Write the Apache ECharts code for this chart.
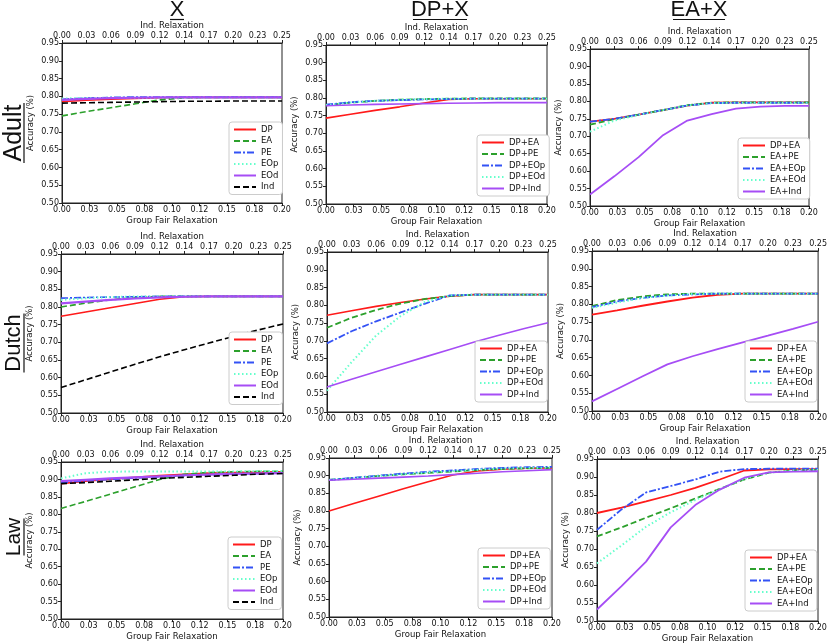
<!DOCTYPE html>
<html>
<head>
<meta charset="utf-8">
<script src="https://cdn.jsdelivr.net/npm/echarts@6/dist/echarts.min.js"></script>
<style>
html,body{margin:0;padding:0;background:#fff;}
#main{width:830px;height:644px;}
</style>
</head>
<body>
<div id="main"></div>
<script>
// bottom axis: group fair relaxation, 10 runs
var groupRelax = [0, 0.0222, 0.0444, 0.0667, 0.0889, 0.1111, 0.1333, 0.1556, 0.1778, 0.2];
var groupTicks = ['0.00','0.03','0.05','0.08','0.10','0.12','0.15','0.18','0.20'];
var indTicks = ['0.00','0.03','0.06','0.09','0.12','0.14','0.17','0.20','0.23','0.25'];
var colTitles = ['X', 'DP+X', 'EA+X'];
var rowTitles = ['Adult', 'Dutch', 'Law'];

var namesX = ['DP','EA','PE','EOp','EOd','Ind'];
var namesDP = ['DP+EA','DP+PE','DP+EOp','DP+EOd','DP+Ind'];
var namesEA = ['DP+EA','EA+PE','EA+EOp','EA+EOd','EA+Ind'];

// Adult
var adult_X = [
	[0.785, 0.789, 0.792, 0.794, 0.796, 0.797, 0.797, 0.797, 0.797, 0.797],
	[0.745, 0.757, 0.768, 0.779, 0.790, 0.796, 0.797, 0.797, 0.797, 0.797],
	[0.792, 0.795, 0.797, 0.798, 0.798, 0.798, 0.798, 0.798, 0.798, 0.798],
	[0.794, 0.795, 0.796, 0.796, 0.796, 0.796, 0.796, 0.796, 0.796, 0.796],
	[0.790, 0.793, 0.795, 0.796, 0.797, 0.797, 0.797, 0.797, 0.797, 0.797],
	[0.781, 0.782, 0.783, 0.784, 0.785, 0.786, 0.786, 0.787, 0.787, 0.787]
];
var adult_DP = [
	[0.743, 0.754, 0.765, 0.775, 0.786, 0.796, 0.798, 0.798, 0.798, 0.798],
	[0.779, 0.787, 0.792, 0.795, 0.797, 0.798, 0.799, 0.799, 0.799, 0.799],
	[0.781, 0.788, 0.792, 0.794, 0.796, 0.797, 0.798, 0.798, 0.798, 0.798],
	[0.780, 0.787, 0.792, 0.795, 0.797, 0.798, 0.798, 0.798, 0.798, 0.798],
	[0.778, 0.780, 0.782, 0.783, 0.784, 0.785, 0.786, 0.787, 0.787, 0.787]
];
var adult_EA = [
	[0.742, 0.750, 0.762, 0.775, 0.788, 0.796, 0.797, 0.797, 0.797, 0.797],
	[0.733, 0.749, 0.762, 0.775, 0.789, 0.796, 0.797, 0.797, 0.797, 0.797],
	[0.742, 0.750, 0.762, 0.775, 0.788, 0.795, 0.796, 0.796, 0.796, 0.796],
	[0.713, 0.745, 0.761, 0.775, 0.788, 0.795, 0.796, 0.796, 0.796, 0.796],
	[0.533, 0.585, 0.640, 0.703, 0.745, 0.763, 0.779, 0.785, 0.787, 0.787]
];
// Dutch
var dutch_X = [
	[0.774, 0.786, 0.798, 0.810, 0.822, 0.829, 0.830, 0.830, 0.830, 0.830],
	[0.800, 0.811, 0.820, 0.827, 0.830, 0.830, 0.830, 0.830, 0.830, 0.830],
	[0.825, 0.827, 0.828, 0.829, 0.830, 0.830, 0.830, 0.830, 0.830, 0.830],
	[0.820, 0.825, 0.828, 0.830, 0.830, 0.830, 0.830, 0.830, 0.830, 0.830],
	[0.810, 0.815, 0.820, 0.824, 0.827, 0.829, 0.830, 0.830, 0.830, 0.830],
	[0.572, 0.594, 0.616, 0.638, 0.659, 0.679, 0.698, 0.717, 0.735, 0.752]
];
var dutch_DP = [
	[0.772, 0.785, 0.797, 0.808, 0.818, 0.826, 0.830, 0.830, 0.830, 0.830],
	[0.737, 0.765, 0.787, 0.805, 0.818, 0.826, 0.830, 0.830, 0.830, 0.830],
	[0.693, 0.727, 0.755, 0.780, 0.805, 0.828, 0.830, 0.830, 0.830, 0.830],
	[0.560, 0.640, 0.715, 0.770, 0.810, 0.828, 0.830, 0.830, 0.830, 0.830],
	[0.570, 0.592, 0.613, 0.634, 0.655, 0.676, 0.697, 0.716, 0.734, 0.751]
];
var dutch_EA = [
	[0.771, 0.783, 0.796, 0.808, 0.819, 0.827, 0.830, 0.830, 0.830, 0.830],
	[0.795, 0.812, 0.822, 0.828, 0.830, 0.830, 0.830, 0.830, 0.830, 0.830],
	[0.792, 0.808, 0.818, 0.825, 0.828, 0.830, 0.830, 0.830, 0.830, 0.830],
	[0.790, 0.805, 0.818, 0.825, 0.829, 0.830, 0.830, 0.830, 0.830, 0.830],
	[0.527, 0.562, 0.597, 0.631, 0.654, 0.674, 0.693, 0.712, 0.731, 0.751]
];
// Law
var law_X = [
	[0.888, 0.895, 0.901, 0.906, 0.911, 0.915, 0.918, 0.920, 0.921, 0.922],
	[0.817, 0.837, 0.858, 0.879, 0.900, 0.915, 0.920, 0.922, 0.923, 0.923],
	[0.891, 0.896, 0.900, 0.904, 0.908, 0.911, 0.914, 0.916, 0.917, 0.918],
	[0.903, 0.918, 0.922, 0.923, 0.923, 0.923, 0.923, 0.923, 0.924, 0.924],
	[0.895, 0.899, 0.903, 0.906, 0.909, 0.912, 0.914, 0.916, 0.917, 0.918],
	[0.888, 0.891, 0.895, 0.899, 0.903, 0.906, 0.909, 0.912, 0.915, 0.917]
];
var law_DP = [
	[0.800, 0.821, 0.842, 0.863, 0.883, 0.902, 0.913, 0.918, 0.921, 0.922],
	[0.888, 0.893, 0.899, 0.904, 0.908, 0.912, 0.916, 0.919, 0.921, 0.922],
	[0.888, 0.894, 0.900, 0.906, 0.911, 0.915, 0.919, 0.922, 0.924, 0.925],
	[0.888, 0.893, 0.899, 0.904, 0.909, 0.913, 0.917, 0.920, 0.922, 0.923],
	[0.887, 0.890, 0.893, 0.896, 0.899, 0.903, 0.907, 0.911, 0.914, 0.917]
];
var law_EA = [
	[0.800, 0.815, 0.832, 0.850, 0.870, 0.893, 0.918, 0.921, 0.922, 0.922],
	[0.735, 0.760, 0.787, 0.813, 0.840, 0.867, 0.893, 0.912, 0.918, 0.920],
	[0.753, 0.810, 0.857, 0.875, 0.893, 0.915, 0.922, 0.923, 0.923, 0.923],
	[0.660, 0.710, 0.762, 0.802, 0.836, 0.866, 0.895, 0.912, 0.918, 0.920],
	[0.532, 0.597, 0.665, 0.760, 0.822, 0.865, 0.898, 0.913, 0.915, 0.916]
];

var RED = '#ff1a1a', GREEN = '#2ca02c', BLUE = '#3352f5', AQUA = '#66ffcc', PURPLE = '#a64df5';
var DASH = [6, 3], DASHDOT = [7, 2, 2, 2], DOT = [1.5, 2.5];
var styleX = [
	{color: RED, type: 'solid', width: 1.6},
	{color: GREEN, type: DASH, width: 1.6},
	{color: BLUE, type: DASHDOT, width: 1.6},
	{color: AQUA, type: DOT, width: 2},
	{color: PURPLE, type: 'solid', width: 2.2},
	{color: '#000', type: DASH, width: 1.6}
];
var styleDP = [
	{color: RED, type: 'solid', width: 1.6},
	{color: GREEN, type: DASH, width: 1.8},
	{color: BLUE, type: DASHDOT, width: 1.8},
	{color: AQUA, type: DOT, width: 2},
	{color: PURPLE, type: 'solid', width: 1.6}
];
var styleEA = [
	{color: RED, type: 'solid', width: 1.8},
	{color: GREEN, type: DASH, width: 1.8},
	{color: BLUE, type: DASHDOT, width: 1.8},
	{color: AQUA, type: DOT, width: 2},
	{color: PURPLE, type: 'solid', width: 1.8}
];

// plot boxes [left, top, width, height], row by row
var boxes = [
	[62, 43, 220, 160], [326, 45, 221, 159], [590, 49, 219, 157],
	[61, 254, 222, 159], [327, 252, 221, 160], [592, 251, 227, 160],
	[61, 462, 222, 157], [329, 458, 223, 159], [597, 459, 221, 162]
];
// legend top-left corners
var legendPos = [
	[229, 122], [477, 135], [738, 138],
	[229, 332], [475, 341], [745, 341],
	[228, 537], [478, 548], [745, 550]
];

var panels = [
	[adult_X, namesX, styleX], [adult_DP, namesDP, styleDP], [adult_EA, namesEA, styleEA],
	[dutch_X, namesX, styleX], [dutch_DP, namesDP, styleDP], [dutch_EA, namesEA, styleEA],
	[law_X, namesX, styleX], [law_DP, namesDP, styleDP], [law_EA, namesEA, styleEA]
];

var FONT = 'DejaVu Sans';
var lbl = {fontSize: 8, color: '#111', fontFamily: FONT};
var nm = {fontSize: 8.5, color: '#111', fontFamily: FONT};
var axLine = {show: true, lineStyle: {color: '#222', width: 1}};
var axTick = {show: true, length: 3, inside: false, lineStyle: {color: '#222'}};

var grid = [], xAxis = [], yAxis = [], series = [], legend = [];
for (var p = 0; p < 9; p++) {
	var b = boxes[p];
	grid.push({left: b[0], top: b[1], width: b[2], height: b[3], show: true,
		borderColor: '#222', borderWidth: 1, backgroundColor: '#fff'});
	xAxis.push({
		type: 'value', gridIndex: p, position: 'bottom', min: 0, max: 0.2, interval: 0.025,
		name: 'Group Fair Relaxation', nameLocation: 'middle', nameGap: 13, nameTextStyle: nm,
		axisLine: axLine, axisTick: axTick, splitLine: {show: false},
		axisLabel: Object.assign({margin: 3, showMaxLabel: true, formatter: function (v) {
			return groupTicks[Math.round(v / 0.025)];
		}}, lbl)
	});
	xAxis.push({
		type: 'value', gridIndex: p, position: 'top', min: 0, max: 9, interval: 1,
		name: 'Ind. Relaxation', nameLocation: 'middle', nameGap: 13, nameTextStyle: nm,
		axisLine: axLine, axisTick: axTick, splitLine: {show: false},
		axisLabel: Object.assign({margin: 3, formatter: function (v) {
			return indTicks[Math.round(v)];
		}}, lbl)
	});
	yAxis.push({
		type: 'value', gridIndex: p, min: 0.5, max: 0.95, interval: 0.05,
		name: 'Accuracy (%)', nameLocation: 'middle', nameGap: 27, nameTextStyle: nm,
		axisLine: axLine, axisTick: axTick, splitLine: {show: false},
		axisLabel: Object.assign({margin: 3, formatter: function (v) { return v.toFixed(2); }}, lbl)
	});
	var vals = panels[p][0], names = panels[p][1], sty = panels[p][2];
	for (var s = 0; s < vals.length; s++) {
		var pts = [];
		for (var i = 0; i < groupRelax.length; i++) pts.push([groupRelax[i], vals[s][i]]);
		series.push({
			type: 'line', name: names[s], xAxisIndex: 2 * p, yAxisIndex: p,
			data: pts, symbol: 'none', color: sty[s].color,
			lineStyle: {color: sty[s].color, width: sty[s].width, type: sty[s].type}
		});
	}
	legend.push({
		data: names, orient: 'vertical', left: legendPos[p][0], top: legendPos[p][1],
		itemWidth: 22, itemHeight: 8, itemGap: 2.5, padding: [3, 4, 3, 4],
		borderColor: '#ccc', borderWidth: 1, borderRadius: 3, backgroundColor: '#fff',
		itemStyle: {opacity: 0}, selectedMode: false,
		textStyle: {fontSize: 8.5, color: '#111', fontFamily: FONT}
	});
}

var bigFont = 'Liberation Sans';
var titleX = [177, 440, 699], titleW = [14, 54, 52];
var rowY = [133, 343, 537], rowSize = [25, 22, 21], rowW = [60, 59, 37];
var graphic = [];
for (var c = 0; c < 3; c++) {
	graphic.push({type: 'text', x: titleX[c], y: 10, style: {text: colTitles[c], fontSize: 22,
		fontFamily: bigFont, fill: '#111', textAlign: 'center', textVerticalAlign: 'middle'}});
	graphic.push({type: 'line', shape: {x1: titleX[c] - titleW[c] / 2, y1: 19.5, x2: titleX[c] + titleW[c] / 2, y2: 19.5},
		style: {stroke: '#111', lineWidth: 1.2}});
}
for (var r = 0; r < 3; r++) {
	graphic.push({type: 'text', x: 14, y: rowY[r], rotation: Math.PI / 2, style: {text: rowTitles[r],
		fontSize: rowSize[r], fontFamily: bigFont, fill: '#111', textAlign: 'center', textVerticalAlign: 'middle'}});
	graphic.push({type: 'line', shape: {x1: 24, y1: rowY[r] - rowW[r] / 2, x2: 24, y2: rowY[r] + rowW[r] / 2},
		style: {stroke: '#111', lineWidth: 1.2}});
}

var chart = echarts.init(document.getElementById('main'));
chart.setOption({
	animation: false,
	backgroundColor: '#fff',
	grid: grid, xAxis: xAxis, yAxis: yAxis, legend: legend,
	series: series, graphic: graphic
});
</script>
</body>
</html>
